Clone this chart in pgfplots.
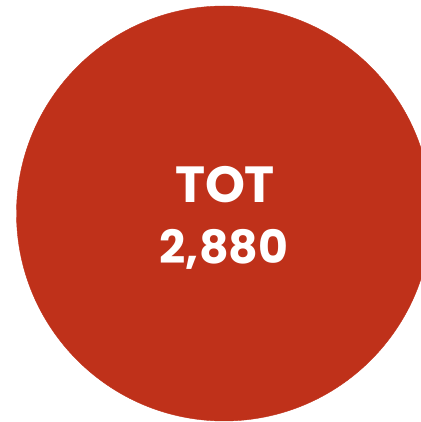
\documentclass[border=0pt]{standalone}
\usepackage{fontspec}
\setmainfont{Poppins}
\usepackage{pgfplots}
\pgfplotsset{compat=1.18}
\definecolor{pie}{RGB}{191,49,26}
\begin{document}
\begin{tikzpicture}
\begin{axis}[width=421bp, height=422bp, scale only axis, hide axis,
  xmin=0, xmax=421, ymin=0, ymax=422, clip=false,
  anchor=south west, at={(0,0)}]
% single slice: total 2,880
\addplot[only marks, mark=*, mark size=207.5bp, color=pie, mark options={draw=none, fill=pie}] coordinates {(224,208.5)};
\coordinate (c1) at (axis cs:225,219);
\coordinate (c2) at (axis cs:224,158);
\end{axis}
\node[anchor=base, text=white, font=\bfseries\fontsize{51}{51}\selectfont, inner sep=0pt] at (c1) {TOT};
\node[anchor=base, text=white, font=\bfseries\fontsize{46}{46}\selectfont, inner sep=0pt] at (c2) {2,880};
\pgfresetboundingbox
\path[use as bounding box] (0,0) rectangle (421bp,422bp);
\end{tikzpicture}
\end{document}
